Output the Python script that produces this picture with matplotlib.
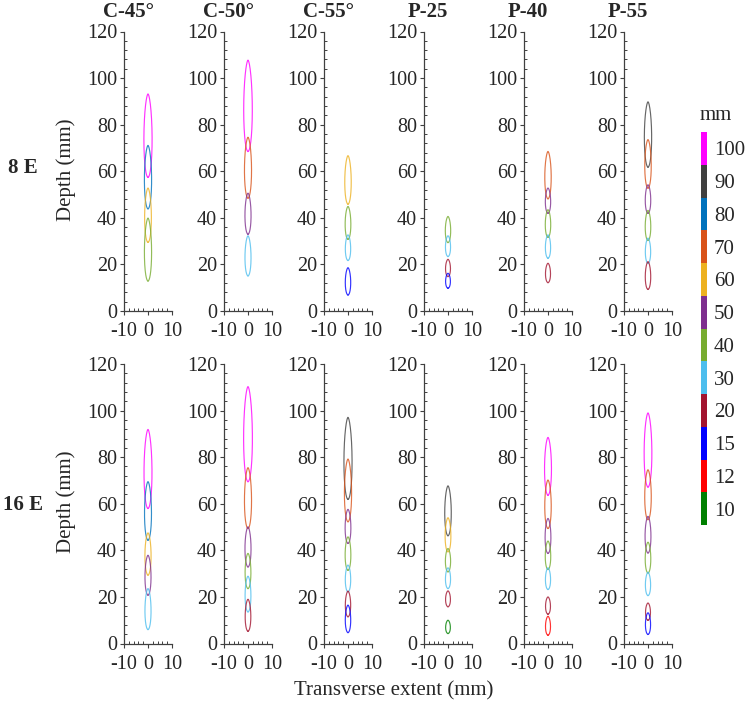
import numpy as np
import matplotlib
matplotlib.use("Agg")
import matplotlib.pyplot as plt
from matplotlib.colors import ListedColormap, BoundaryNorm
from matplotlib.ticker import MultipleLocator

plt.rcParams['font.family'] = ['Liberation Serif', 'DejaVu Serif']

# ---------------- data ----------------
columns = ["C-45°", "C-50°", "C-55°", "P-25", "P-40", "P-55"]
rows = ["8 E", "16 E"]

levels = [10, 12, 15, 20, 30, 40, 50, 60, 70, 80, 90, 100]
level_colors = ["#008000", "#FF0000", "#0000FF", "#A2142F", "#4DBEEE", "#77AC30",
                "#7E2F8E", "#EDB120", "#D95319", "#0072BD", "#404040", "#FF00FF"]

# 8 E row : contour level, deepest point (top), shallowest point (bottom) in mm
C45_8E_lvl = [100, 80, 60, 40]
C45_8E_top = [93.2, 71.1, 52.8, 39.9]
C45_8E_bot = [57.4, 43.9, 29.5, 12.9]

C50_8E_lvl = [100, 70, 50, 30]
C50_8E_top = [107.7, 74.6, 50.6, 32.3]
C50_8E_bot = [68.5, 48.5, 33.0, 15.1]

C55_8E_lvl = [60, 40, 30, 15]
C55_8E_top = [66.7, 44.9, 32.7, 18.6]
C55_8E_bot = [45.9, 30.8, 21.7, 6.9]

P25_8E_lvl = [40, 30, 20, 15]
P25_8E_top = [40.6, 32.3, 22.2, 16.2]
P25_8E_bot = [29.4, 23.4, 14.8, 9.8]

P40_8E_lvl = [70, 50, 40, 30, 20]
P40_8E_top = [68.5, 52.8, 43.5, 32.7, 20.5]
P40_8E_bot = [48.2, 42.0, 31.7, 22.7, 12.2]

P55_8E_lvl = [90, 70, 50, 40, 30, 20]
P55_8E_top = [89.8, 73.6, 54.2, 43.2, 31.3, 21.2]
P55_8E_bot = [61.8, 52.8, 42.0, 30.3, 20.5, 9.3]

# 16 E row
C45_16E_lvl = [100, 80, 60, 50, 30]
C45_16E_top = [91.9, 69.5, 47.5, 37.9, 23.6]
C45_16E_bot = [58.0, 44.4, 29.4, 20.8, 6.0]

C50_16E_lvl = [100, 70, 50, 40, 30, 20]
C50_16E_top = [110.3, 75.5, 50.1, 38.7, 28.9, 19.0]
C50_16E_bot = [69.5, 49.4, 32.9, 23.6, 13.6, 5.3]

C55_16E_lvl = [90, 70, 50, 40, 30, 20, 15]
C55_16E_top = [97.1, 79.2, 57.6, 45.8, 33.7, 22.5, 16.5]
C55_16E_bot = [61.9, 52.3, 43.0, 31.5, 22.2, 11.5, 4.7]

P25_16E_lvl = [90, 60, 40, 30, 20, 10]
P25_16E_top = [67.7, 54.0, 40.8, 32.5, 22.6, 10.0]
P25_16E_bot = [46.3, 39.4, 30.8, 23.6, 15.8, 4.3]

P40_16E_lvl = [100, 70, 50, 40, 30, 20, 12]
P40_16E_top = [88.5, 70.2, 53.7, 44.0, 32.5, 20.0, 11.7]
P40_16E_bot = [63.7, 49.4, 38.7, 31.8, 23.2, 12.6, 3.6]

P55_16E_lvl = [100, 70, 50, 40, 30, 20, 15]
P55_16E_top = [99.0, 74.6, 54.6, 43.5, 30.6, 17.4, 13.2]
P55_16E_bot = [67.2, 53.2, 38.9, 30.3, 20.6, 10.0, 3.9]

panels = [
    [(C45_8E_lvl, C45_8E_top, C45_8E_bot), (C50_8E_lvl, C50_8E_top, C50_8E_bot),
     (C55_8E_lvl, C55_8E_top, C55_8E_bot), (P25_8E_lvl, P25_8E_top, P25_8E_bot),
     (P40_8E_lvl, P40_8E_top, P40_8E_bot), (P55_8E_lvl, P55_8E_top, P55_8E_bot)],
    [(C45_16E_lvl, C45_16E_top, C45_16E_bot), (C50_16E_lvl, C50_16E_top, C50_16E_bot),
     (C55_16E_lvl, C55_16E_top, C55_16E_bot), (P25_16E_lvl, P25_16E_top, P25_16E_bot),
     (P40_16E_lvl, P40_16E_top, P40_16E_bot), (P55_16E_lvl, P55_16E_top, P55_16E_bot)],
]

# ---------------- figure ----------------
W, H = 750, 708
fig = plt.figure(figsize=(W / 100, H / 100), dpi=100)
axcol = "#404040"
txtcol = "#262626"
color_of = dict(zip(levels, level_colors))

# teardrop outline: round shallow end, narrow deep end
phi = np.linspace(0, np.pi, 150)
u = (1 - np.cos(phi)) / 2
prof = np.sqrt(u) * (1 - u) ** 0.6
prof = prof / prof.max()


def px2fig_x(px):
    return px / W


def px2fig_y(py):
    return 1 - py / H


row_geom = [(31.5, 311.0), (364.0, 643.5)]  # (top px, bottom px)
row_label_y = [168, 505]
ylabel_y = [170, 502]
for r in range(2):
    top_px, bot_px = row_geom[r]
    for c in range(6):
        left_px = 124 + 100 * c
        ax = fig.add_axes([px2fig_x(left_px), px2fig_y(bot_px),
                           48 / W, (bot_px - top_px) / H])
        lvl, tops, bots = panels[r][c]
        for lv, t, b in zip(lvl, tops, bots):
            L = t - b
            hw = 0.85 + 0.024 * L
            ys = b + L * u
            xs = hw * prof
            ax.plot(np.concatenate([xs, -xs[::-1]]), np.concatenate([ys, ys[::-1]]),
                    color=color_of[lv], lw=0.85, alpha=0.8)
        ax.set_xlim(-10, 10)
        ax.set_ylim(0, 120)
        for sp in ["top", "right"]:
            ax.spines[sp].set_visible(False)
        for sp in ["left", "bottom"]:
            ax.spines[sp].set_color(axcol)
            ax.spines[sp].set_linewidth(0.9)
        ax.set_xticks([-10, 0, 10])
        ax.set_xticklabels(["-10", "0", "10"])
        ax.set_yticks(np.arange(0, 121, 20))
        ax.xaxis.set_minor_locator(MultipleLocator(2))
        ax.yaxis.set_minor_locator(MultipleLocator(4))
        ax.tick_params(axis="both", which="major", labelsize=14.5, colors=axcol,
                       labelcolor=txtcol, direction="out", length=3, width=0.8)
        ax.tick_params(axis="both", which="minor", colors=axcol, direction="in",
                       length=2.5, width=0.7)
        ax.tick_params(axis="y", pad=2)
        ax.tick_params(axis="x", pad=5)
        ax.set_facecolor("none")
        if r == 0:
            fig.text(px2fig_x(left_px + 4), px2fig_y(12), columns[c], fontsize=15,
                     fontweight="bold", color=txtcol, ha="center", va="center")
    fig.text(px2fig_x(66), px2fig_y(ylabel_y[r]), "Depth (mm)", fontsize=15,
             color=txtcol, ha="center", va="center", rotation=90)
    fig.text(px2fig_x(23), px2fig_y(row_label_y[r]), rows[r], fontsize=15,
             fontweight="bold", color=txtcol, ha="center", va="center")

fig.text(px2fig_x(394), px2fig_y(691), "Transverse extent (mm)", fontsize=15,
         color=txtcol, ha="center", va="center")

# ---------------- colorbar ----------------
cax = fig.add_axes([px2fig_x(700.5), px2fig_y(525), 6.5 / W, 393 / H])
cmap = ListedColormap(level_colors)
norm = BoundaryNorm(np.arange(len(levels) + 1) - 0.5, cmap.N)
sm = plt.cm.ScalarMappable(cmap=cmap, norm=norm)
cb = fig.colorbar(sm, cax=cax, ticks=np.arange(len(levels)))
cb.ax.set_yticklabels([str(v) for v in levels])
cb.outline.set_visible(False)
cb.ax.minorticks_off()
cb.ax.tick_params(which="both", length=0, labelsize=15, labelcolor=txtcol, pad=5)
fig.text(px2fig_x(716), px2fig_y(115), "mm", fontsize=15, color=txtcol,
         ha="center", va="center")

fig.savefig("out.png", dpi=100, facecolor="white")
